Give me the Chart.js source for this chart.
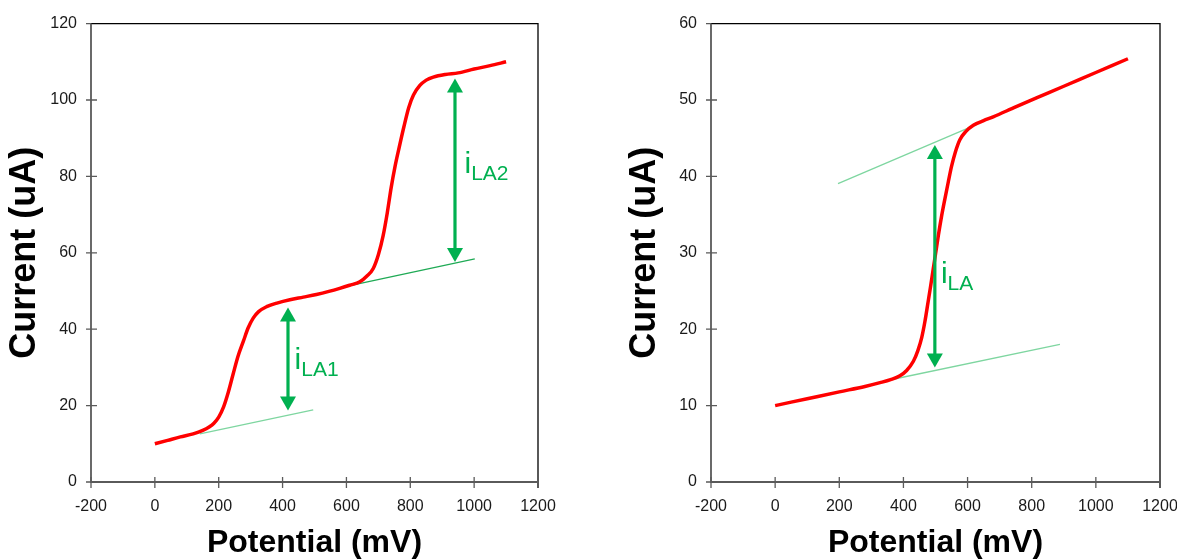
<!DOCTYPE html>
<html>
<head>
<meta charset="utf-8">
<script src="https://cdn.jsdelivr.net/npm/chart.js@4.4.1/dist/chart.umd.min.js"></script>
<style>
    html, body { margin: 0; padding: 0; background: #fff; overflow: hidden; width: 1177px; height: 559px; }
    .box { position: absolute; top: 0; }
    #box1 { left: 0; }
    #box2 { left: 620px; }
</style>
</head>
<body>
<div class="box" id="box1"><canvas id="chart1" width="600" height="559"></canvas></div>
<div class="box" id="box2"><canvas id="chart2" width="600" height="559"></canvas></div>
<script>
// 왼쪽 : 두 단계 파형
const POT_LEFT = [0, 40, 80, 120, 150, 170, 185, 200, 215, 230, 245, 260, 277, 292, 308, 325, 350, 385, 423, 465, 506, 545, 579, 610, 642, 665, 684, 700, 715, 728, 740, 752, 765, 780, 795, 810, 830, 850, 872, 910, 950, 1000, 1050, 1100];
const CUR_LEFT = [10, 10.9, 11.8, 12.6, 13.5, 14.4, 15.4, 17, 19.6, 23.5, 28.2, 32.8, 36.8, 40.3, 42.9, 44.6, 45.9, 46.9, 47.7, 48.4, 49.1, 49.9, 50.7, 51.5, 52.4, 54, 55.9, 59.5, 64.5, 70.5, 77, 82.5, 87.5, 93, 98, 101.3, 103.8, 105.2, 106, 106.7, 107.1, 108.1, 109, 110];

// 오른쪽 : 한 단계 파형
const POT_RIGHT = [0, 100, 200, 280, 327, 360, 389, 410, 431, 445, 457, 467, 477, 485, 493, 501, 509, 519, 529, 540, 550, 562, 576, 595, 618, 650, 680, 750, 850, 950, 1050, 1100];
const CUR_RIGHT = [10, 10.9, 11.8, 12.5, 13.0, 13.4, 13.9, 14.6, 15.8, 17.2, 18.9, 21, 23.6, 25.7, 27.9, 30.1, 32.3, 34.8, 37.0, 39.3, 41.3, 43.2, 44.8, 45.9, 46.7, 47.3, 47.8, 49.1, 50.9, 52.7, 54.5, 55.4];

// 접선 (x1, y1, x2, y2)
const TANGENTS_LEFT = [[141, 12.6, 496, 18.9], [600, 51.2, 1002, 58.4]];
const TANGENTS_RIGHT = [[196, 39.05, 629, 46.8], [368, 13.45, 888, 18.0]];

// 한계전류 화살표 (x, 아래, 위)
const ARROWS_LEFT = [[417, 18.7, 45.7], [940, 57.6, 105.6]];
const ARROWS_RIGHT = [[498, 15.0, 44.1]];

// 화살표 라벨 (아래첨자, x, y)
const LABELS_LEFT = [['LA1', 444, 29.6], ['LA2', 976, 81.0]];
const LABELS_RIGHT = [['LA', 523, 26.0]];

const TANGENT_COLORS_LEFT = ['#7ed6a0', '#1faa55'];
const TANGENT_COLORS_RIGHT = ['#7ed6a0', '#7ed6a0'];

const GREEN = '#00b050';
const FONT = "'Liberation Sans', Arial, sans-serif";

function toPoints(xs, ys) {
    let pts = [];
    for (let i = 0; i < xs.length; i++) {
        pts.push({x: xs[i], y: ys[i]});
    }
    return pts;
}

const decor = {
    id: 'decor',
    afterDatasetsDraw(chart, args, opts) {
        const ctx = chart.ctx;
        const xs = chart.scales.x;
        const ys = chart.scales.y;

        // 화살표
        ctx.save();
        ctx.strokeStyle = GREEN;
        ctx.fillStyle = GREEN;
        ctx.lineWidth = 3.2;
        opts.arrows.forEach(a => {
            const px = xs.getPixelForValue(a[0]);
            const yb = ys.getPixelForValue(a[1]);
            const yt = ys.getPixelForValue(a[2]);
            const hl = 14, hw = 8;
            ctx.beginPath();
            ctx.moveTo(px, yt + hl - 1);
            ctx.lineTo(px, yb - hl + 1);
            ctx.stroke();
            ctx.beginPath();
            ctx.moveTo(px, yt);
            ctx.lineTo(px - hw, yt + hl);
            ctx.lineTo(px + hw, yt + hl);
            ctx.closePath();
            ctx.fill();
            ctx.beginPath();
            ctx.moveTo(px, yb);
            ctx.lineTo(px - hw, yb - hl);
            ctx.lineTo(px + hw, yb - hl);
            ctx.closePath();
            ctx.fill();
        });

        // 라벨 i + 아래첨자
        ctx.textBaseline = 'alphabetic';
        ctx.textAlign = 'left';
        opts.labels.forEach(l => {
            const px = xs.getPixelForValue(l[1]);
            const py = ys.getPixelForValue(l[2]);
            ctx.font = '30px ' + FONT;
            ctx.fillText('i', px - 2, py);
            const w = ctx.measureText('i').width;
            ctx.font = '21px ' + FONT;
            ctx.fillText(l[0], px - 2 + w, py + 7);
        });
        ctx.restore();
    },
    afterDraw(chart) {
        const ctx = chart.ctx;
        const a = chart.chartArea;
        const xs = chart.scales.x;
        const ys = chart.scales.y;
        ctx.save();
        // 위, 오른쪽 테두리
        ctx.strokeStyle = '#000';
        ctx.lineWidth = 1.3;
        ctx.beginPath();
        ctx.moveTo(a.left, a.top);
        ctx.lineTo(a.right, a.top);
        ctx.lineTo(a.right, a.bottom + 6);
        ctx.stroke();
        // 축과 눈금
        ctx.strokeStyle = '#5a5a5a';
        ctx.lineWidth = 1.8;
        ctx.beginPath();
        ctx.moveTo(a.left, a.top);
        ctx.lineTo(a.left, a.bottom);
        ctx.lineTo(a.right, a.bottom);
        ctx.stroke();
        ctx.lineWidth = 1.3;
        ctx.beginPath();
        ys.ticks.forEach(t => {
            const py = ys.getPixelForValue(t.value);
            ctx.moveTo(a.left - 5, py);
            ctx.lineTo(t.value == ys.max ? a.left : a.left + 6, py);
        });
        xs.ticks.forEach(t => {
            const px = xs.getPixelForValue(t.value);
            ctx.moveTo(px, a.bottom - 5);
            ctx.lineTo(px, a.bottom + 6);
        });
        ctx.stroke();
        ctx.restore();
    }
};

function createChart(id, pots, curs, tangents, tangentColors, arrows, labels, yMax, yStep, padRight) {
    let datasets = [{
        data: toPoints(pots, curs),
        borderColor: '#ff0000',
        borderWidth: 3.5,
        pointRadius: 0,
        cubicInterpolationMode: 'monotone',
        order: 0
    }];

    tangents.forEach((t, i) => {
        datasets.push({
            data: [{x: t[0], y: t[1]}, {x: t[2], y: t[3]}],
            borderColor: tangentColors[i],
            borderWidth: 1.3,
            pointRadius: 0,
            order: 1
        });
    });

    const config = {
        type: 'line',
        data: { datasets: datasets },
        options: {
            responsive: false,
            animation: false,
            layout: { padding: { left: 0, right: padRight, top: 19.5, bottom: 0 } },
            plugins: {
                legend: { display: false },
                tooltip: { enabled: false },
                decor: { arrows: arrows, labels: labels }
            },
            scales: {
                x: {
                    type: 'linear',
                    min: -200,
                    max: 1200,
                    ticks: {
                        stepSize: 200,
                        color: '#1a1a1a',
                        padding: 15,
                        font: { family: FONT, size: 16 },
                        callback: v => String(v)
                    },
                    grid: { display: false, drawTicks: false },
                    border: { display: false },
                    title: {
                        display: true,
                        text: 'Potential (mV)',
                        color: '#000',
                        font: { family: FONT, size: 32, weight: 'bold', lineHeight: 1 },
                        padding: { top: 0, bottom: 0 }
                    },
                    afterFit(scale) { scale.height = 77; }
                },
                y: {
                    min: 0,
                    max: yMax,
                    ticks: {
                        stepSize: yStep,
                        color: '#1a1a1a',
                        padding: 14,
                        font: { family: FONT, size: 16 },
                        callback: v => String(v)
                    },
                    grid: { display: false, drawTicks: false },
                    border: { display: false },
                    title: {
                        display: true,
                        text: 'Current (uA)',
                        color: '#000',
                        font: { family: FONT, size: 36, weight: 'bold', lineHeight: 1 },
                        padding: { top: 7, bottom: 0 }
                    },
                    afterFit(scale) { scale.width = 91; }
                }
            }
        },
        plugins: [decor]
    };

    return new Chart(id, config);
}

createChart('chart1', POT_LEFT, CUR_LEFT, TANGENTS_LEFT, TANGENT_COLORS_LEFT, ARROWS_LEFT, LABELS_LEFT, 120, 20, 62);
createChart('chart2', POT_RIGHT, CUR_RIGHT, TANGENTS_RIGHT, TANGENT_COLORS_RIGHT, ARROWS_RIGHT, LABELS_RIGHT, 60, 10, 60);
</script>
</body>
</html>
